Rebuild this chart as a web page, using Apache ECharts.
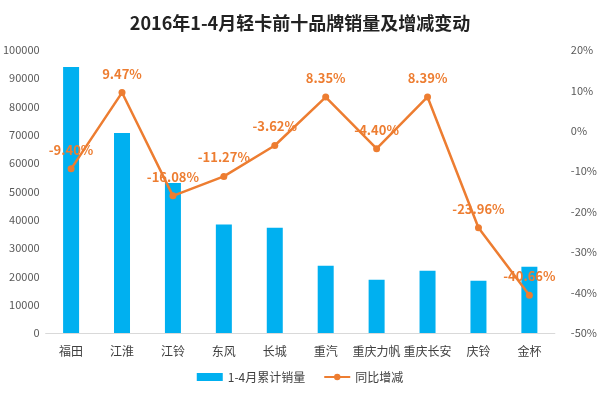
<!DOCTYPE html>
<html>
<head>
<meta charset="utf-8">
<script src="https://cdn.jsdelivr.net/npm/echarts@6/dist/echarts.min.js"></script>
<style>
  html, body { margin: 0; padding: 0; background: #fff; }
  #chart { width: 600px; height: 397px; }
</style>
</head>
<body>
<div id="chart"></div>
<script>
var brands = ['福田', '江淮', '江铃', '东风', '长城', '重汽', '重庆力帆', '重庆长安', '庆铃', '金杯'];
var sales = [94000, 70700, 53000, 38300, 37200, 23800, 18800, 22000, 18500, 23400];
var growth = [-9.40, 9.47, -16.08, -11.27, -3.62, 8.35, -4.40, 8.39, -23.96, -40.66];

var font = '"Microsoft YaHei", "Noto Sans CJK SC", sans-serif';

var option = {
  title: {
    text: '2016年1-4月轻卡前十品牌销量及增减变动',
    left: 'center',
    top: 9,
    textStyle: { fontFamily: font, fontSize: 18, fontWeight: 'bold', color: '#222' }
  },
  legend: {
    bottom: 9,
    itemGap: 18,
    textStyle: { fontFamily: font, fontSize: 12, color: '#404040' },
    data: [
      { name: '1-4月累计销量', icon: 'rect', itemWidth: 24, itemHeight: 8 },
      { name: '同比增减' }
    ],
    itemWidth: 26,
    itemHeight: 8
  },
  grid: { left: 44, right: 45, top: 50, bottom: 64 },
  xAxis: {
    type: 'category',
    data: brands,
    axisTick: { show: false },
    axisLine: { lineStyle: { color: '#d9d9d9' } },
    axisLabel: { fontFamily: font, fontSize: 12, color: '#404040', margin: 12, interval: 0 }
  },
  yAxis: [
    {
      type: 'value',
      min: 0, max: 100000, interval: 10000,
      splitLine: { show: false },
      axisLabel: { fontFamily: font, fontSize: 11, color: '#595959', margin: 6, formatter: function (v) { return String(v); } }
    },
    {
      type: 'value',
      min: -50, max: 20, interval: 10,
      splitLine: { show: false },
      axisLabel: { fontFamily: font, fontSize: 11, color: '#595959', margin: 16, formatter: '{value}%' }
    }
  ],
  series: [
    {
      name: '1-4月累计销量',
      type: 'bar',
      data: sales,
      barWidth: 16,
      itemStyle: { color: '#00B0F0' }
    },
    {
      name: '同比增减',
      type: 'line',
      yAxisIndex: 1,
      data: growth,
      symbol: 'circle',
      symbolSize: 7,
      lineStyle: { color: '#ED7D31', width: 2.5 },
      itemStyle: { color: '#ED7D31' },
      label: {
        show: true,
        position: 'top',
        distance: 9,
        fontFamily: font,
        fontSize: 13,
        fontWeight: 'bold',
        color: '#ED7D31',
        formatter: function (p) { return p.value.toFixed(2) + '%'; }
      }
    }
  ]
};

echarts.init(document.getElementById('chart')).setOption(option);
</script>
</body>
</html>
